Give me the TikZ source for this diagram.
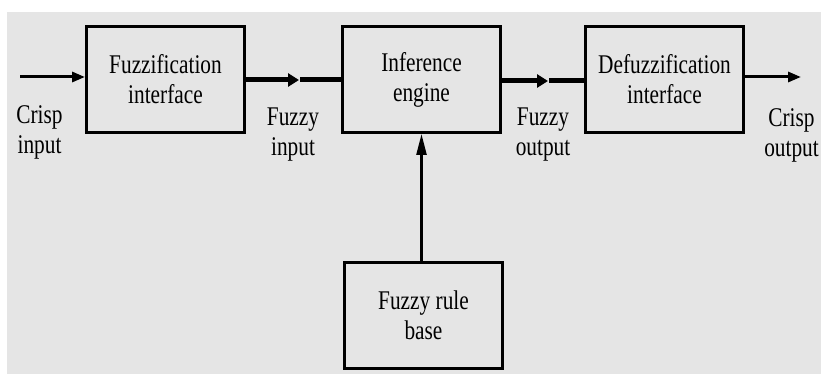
\documentclass[tikz,border=0pt]{standalone}
\usepackage{fontspec}
\setmainfont[FakeStretch=0.79]{Liberation Serif}
\usetikzlibrary{arrows.meta}
\definecolor{panel}{HTML}{E5E5E5}
\begin{document}
\begin{tikzpicture}[x=1pt,y=-1pt,
  txt/.style={font=\fontsize{27}{30}\selectfont, align=center, inner sep=0pt, text=black},
  block/.style={txt, draw=black, line width=3pt, minimum width=158pt, minimum height=106pt},
  thinwire/.style={line width=3pt, -{Triangle[length=13pt,width=10pt]}},
  bus/.style={line width=5pt},
  busarrow/.style={bus, -{Triangle[length=11pt,width=13pt]}},
  feed/.style={line width=2.5pt, -{Triangle[length=21pt,width=10pt]}}]
  % canvas
  \useasboundingbox (0,0) rectangle (821,374);
  \fill[white] (0,0) rectangle (821,374);
  \fill[panel] (7,12) rectangle (821,374);

  % blocks
  \node[block] (fuz) at (165.5,79.5) {Fuzzification\\interface};
  \node[block] (inf) at (421.5,79.5) {Inference\\engine};
  \node[block] (def) at (664.5,79.5) {Defuzzification\\interface};
  \node[block] (rule) at (423.5,315) {Fuzzy rule\\base};

  % signal labels
  \node[txt] (lcin) at (39.5,132) {Crisp\\input};
  \node[txt] (lfin) at (293,135) {Fuzzy\\input};
  \node[txt] (lfout) at (543,135) {Fuzzy\\output};
  \node[txt] (lcout) at (791.5,135) {Crisp\\output};

  % free ends and mid-wire arrow points
  \coordinate (cin) at (20,77);
  \coordinate (cout) at (801,77);
  \coordinate (m1) at (299,80);
  \coordinate (m2) at (548,81);

  % connectors
  \draw[thinwire] (cin) -- (cin -| fuz.west);
  \draw[busarrow] (fuz.east |- m1) -- (m1);
  \draw[bus, shorten <=1pt] (m1) -- (m1 -| inf.west);
  \draw[busarrow] (inf.east |- m2) -- (m2);
  \draw[bus, shorten <=1pt] (m2) -- (m2 -| def.west);
  \draw[thinwire] (def.east |- cout) -- (cout);
  \draw[feed] (rule.north -| inf.south) -- (inf.south);
\end{tikzpicture}
\end{document}
